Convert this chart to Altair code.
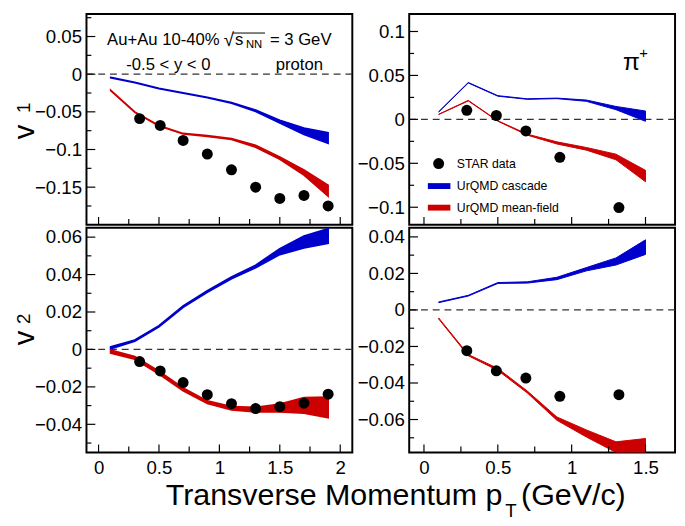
import altair as alt
import pandas as pd

FONT = "Liberation Sans"
BLUE = "#0000CC"
RED = "#CC0000"

W = 271
H_TOP = 215
H_BOT = 229

# ---------------- data ----------------
# proton, STAR data
pt_p = [0.34, 0.51, 0.70, 0.90, 1.10, 1.30, 1.50, 1.70, 1.90]
v1_p_star = [-0.059, -0.068, -0.088, -0.106, -0.127, -0.150, -0.165, -0.161, -0.175]
v2_p_star = [-0.0065, -0.0115, -0.0177, -0.0242, -0.029, -0.0316, -0.0306, -0.0287, -0.0239]
# pi+, STAR data
pt_pi = [0.29, 0.49, 0.69, 0.92, 1.32]
v1_pi_star = [0.0103, 0.0044, -0.0132, -0.0432, -0.1004]
v2_pi_star = [-0.0223, -0.0333, -0.0373, -0.0473, -0.0464]

# UrQMD model bins
pt_model_p = [0.1, 0.3, 0.5, 0.7, 0.9, 1.1, 1.3, 1.5, 1.7, 1.9]
pt_model_pi = [0.1, 0.3, 0.5, 0.7, 0.9, 1.1, 1.3, 1.5]

# v1 proton
v1_p_casc_hi = [-0.0042, -0.0106, -0.0186, -0.0246, -0.0306, -0.0376, -0.0475, -0.061, -0.0714, -0.0777]
v1_p_casc_lo = [-0.0050, -0.0114, -0.0194, -0.0254, -0.0314, -0.0386, -0.0496, -0.065, -0.080, -0.092]
v1_p_mf_hi = [-0.0210, -0.0500, -0.0681, -0.0786, -0.0816, -0.0853, -0.0945, -0.110, -0.127, -0.1475]
v1_p_mf_lo = [-0.0218, -0.0508, -0.0689, -0.0794, -0.0826, -0.0866, -0.0970, -0.113, -0.134, -0.162]
# v1 pi+
v1_pi_casc_hi = [0.0088, 0.0420, 0.0270, 0.0234, 0.0242, 0.0220, 0.0147, 0.0095]
v1_pi_casc_lo = [0.0084, 0.0414, 0.0264, 0.0228, 0.0236, 0.0205, 0.0110, -0.0022]
v1_pi_mf_hi = [0.0059, 0.0216, -0.0015, -0.0168, -0.0256, -0.0320, -0.0396, -0.058]
v1_pi_mf_lo = [0.0055, 0.0210, -0.0021, -0.0180, -0.0280, -0.0350, -0.0460, -0.071]
# v2 proton
v2_p_casc_hi = [0.0014, 0.0050, 0.0127, 0.0232, 0.0313, 0.0387, 0.0450, 0.0538, 0.0605, 0.0645]
v2_p_casc_lo = [0.0004, 0.0044, 0.0121, 0.0225, 0.0306, 0.0378, 0.0437, 0.0507, 0.0542, 0.0567]
v2_p_mf_hi = [-0.0004, -0.0038, -0.0117, -0.0206, -0.0275, -0.0306, -0.0310, -0.0292, -0.0258, -0.0255]
v2_p_mf_lo = [-0.0020, -0.0052, -0.0131, -0.0220, -0.0289, -0.0323, -0.0334, -0.0334, -0.0340, -0.0365]
# v2 pi+
v2_pi_casc_hi = [0.0044, 0.0080, 0.0150, 0.0154, 0.0179, 0.0232, 0.0285, 0.0384]
v2_pi_casc_lo = [0.0040, 0.0076, 0.0145, 0.0147, 0.0166, 0.0214, 0.0246, 0.0304]
v2_pi_mf_hi = [-0.0044, -0.0244, -0.0320, -0.0444, -0.0586, -0.0657, -0.0722, -0.0704]
v2_pi_mf_lo = [-0.0050, -0.0251, -0.0331, -0.0455, -0.0604, -0.0696, -0.0780, -0.0800]

# axes / ticks
x_dom_p = [-0.1, 2.1]
x_dom_pi = [-0.1, 1.7]
x_major_p = [0, 0.5, 1, 1.5, 2]
x_minor_p = [0.25, 0.75, 1.25, 1.75]
x_major_pi = [0, 0.5, 1, 1.5]
x_minor_pi = [0.25, 0.75, 1.25]

y_dom_v1p = [-0.2, 0.08]
y_major_v1p = [0.05, 0, -0.05, -0.1, -0.15]
y_minor_v1p = [0.075, 0.025, -0.025, -0.075, -0.125, -0.175]
y_dom_v1pi = [-0.12, 0.12]
y_major_v1pi = [0.1, 0.05, 0, -0.05, -0.1]
y_minor_v1pi = [0.075, 0.025, -0.025, -0.075]
y_dom_v2p = [-0.055, 0.065]
y_major_v2p = [0.06, 0.04, 0.02, 0, -0.02, -0.04]
y_minor_v2p = [0.05, 0.03, 0.01, -0.01, -0.03, -0.05]
y_dom_v2pi = [-0.078, 0.045]
y_major_v2pi = [0.04, 0.02, 0, -0.02, -0.04, -0.06]
y_minor_v2pi = [0.03, 0.01, -0.01, -0.03, -0.05, -0.07]

legend_labels = ["STAR data", "UrQMD cascade", "UrQMD mean-field"]

ONE = pd.DataFrame({"k": [0]})


def txt(s, x, y, size, align="left", baseline="alphabetic", angle=None):
    kw = dict(text=s, align=align, baseline=baseline, font=FONT, fontSize=size, color="black")
    if angle is not None:
        kw["angle"] = angle
    return alt.Chart(ONE).mark_text(**kw).encode(x=alt.value(x), y=alt.value(y))


def panel(star_x, star_y, mx, c_hi, c_lo, m_hi, m_lo, xdom, ydom,
          xmaj, xmin, ymaj, ymin, H, show_x, lw, extra):
    xs = alt.Scale(domain=xdom, nice=False, zero=False)
    ys = alt.Scale(domain=ydom, nice=False, zero=False)
    yaxis = alt.Axis(values=ymaj, format="~g", title=None, labelPadding=5,
                     ticks=False, domain=False, grid=False,
                     labelFont=FONT, labelFontSize=19, labelColor="black")
    if show_x:
        xaxis = alt.Axis(values=xmaj, format="~g", title=None, labelPadding=7,
                         ticks=False, domain=False, grid=False,
                         labelFont=FONT, labelFontSize=19, labelColor="black")
    else:
        xaxis = None

    def X(f):
        return alt.X(f, scale=xs, axis=xaxis)

    def Y(f):
        return alt.Y(f, scale=ys, axis=yaxis)

    zero = alt.Chart(pd.DataFrame({"z": [0]})).mark_rule(
        color="#333", strokeDash=[7, 5], strokeWidth=1.3
    ).encode(y=Y("z:Q"))

    casc = alt.Chart(pd.DataFrame({"pt": mx, "hi": c_hi, "lo": c_lo})).mark_area(
        color=BLUE, stroke=BLUE, strokeWidth=lw, clip=True
    ).encode(x=X("pt:Q"), y=Y("hi:Q"), y2="lo:Q")
    mf = alt.Chart(pd.DataFrame({"pt": mx, "hi": m_hi, "lo": m_lo})).mark_area(
        color=RED, stroke=RED, strokeWidth=lw, clip=True
    ).encode(x=X("pt:Q"), y=Y("hi:Q"), y2="lo:Q")
    pts = alt.Chart(pd.DataFrame({"pt": star_x, "v": star_y})).mark_circle(
        color="black", size=125, opacity=1
    ).encode(x=X("pt:Q"), y=Y("v:Q"))

    ytM = alt.Chart(pd.DataFrame({"t": ymaj})).mark_rule(color="black", strokeWidth=1.2).encode(
        y=Y("t:Q"), x=alt.value(0), x2=alt.value(9))
    ytm = alt.Chart(pd.DataFrame({"t": ymin})).mark_rule(color="black", strokeWidth=1.2).encode(
        y=Y("t:Q"), x=alt.value(0), x2=alt.value(5))
    xtM = alt.Chart(pd.DataFrame({"t": xmaj})).mark_rule(color="black", strokeWidth=1.2).encode(
        x=X("t:Q"), y=alt.value(H), y2=alt.value(H - 8))
    xtm = alt.Chart(pd.DataFrame({"t": xmin})).mark_rule(color="black", strokeWidth=1.2).encode(
        x=X("t:Q"), y=alt.value(H), y2=alt.value(H - 6))

    return alt.layer(zero, casc, mf, pts, ytM, ytm, xtM, xtm, *extra).properties(width=W, height=H)


# ---- annotations ----
tl_extra = [
    txt("Au+Au 10-40%", 21, 31.5, 17),
    txt("\u221a", 140, 33, 19),
    alt.Chart(ONE).mark_rule(color="black", strokeWidth=1).encode(
        x=alt.value(149.5), x2=alt.value(182), y=alt.value(19.5)),
    txt("s", 151.5, 31.5, 17),
    txt("NN", 162.5, 35, 11.5),
    txt("= 3 GeV", 187, 31.5, 17),
    txt("-0.5 < y < 0", 40.5, 57, 17),
    txt("proton", 193, 57, 17),
    txt("v", -63, H_TOP * 0.56, 30, align="center", baseline="middle", angle=270),
    txt("1", -63.5, H_TOP * 0.445, 19, align="center", baseline="middle", angle=270),
]

tr_extra = [
    txt("\u03c0", 218, 57, 25),
    txt("+", 234.5, 45, 15),
    alt.Chart(ONE).mark_circle(color="black", size=125, opacity=1).encode(
        x=alt.value(30), y=alt.value(152.5)),
    alt.Chart(ONE).mark_rect(color=BLUE).encode(
        x=alt.value(19), x2=alt.value(42), y=alt.value(172.5), y2=alt.value(178.5)),
    alt.Chart(ONE).mark_rect(color=RED).encode(
        x=alt.value(19), x2=alt.value(42), y=alt.value(194.5), y2=alt.value(200.5)),
    txt(legend_labels[0], 48.5, 153.5, 12.5, baseline="middle"),
    txt(legend_labels[1], 48.5, 175.5, 12.5, baseline="middle"),
    txt(legend_labels[2], 48.5, 197.5, 12.5, baseline="middle"),
]

bl_extra = [
    txt("v", -63, H_BOT * 0.49, 30, align="center", baseline="middle", angle=270),
    txt("2", -63.5, H_BOT * 0.405, 19, align="center", baseline="middle", angle=270),
]

tl = panel(pt_p, v1_p_star, pt_model_p, v1_p_casc_hi, v1_p_casc_lo, v1_p_mf_hi, v1_p_mf_lo,
           x_dom_p, y_dom_v1p, x_major_p, x_minor_p, y_major_v1p, y_minor_v1p,
           H_TOP, False, 1.6, tl_extra)
tr = panel(pt_pi, v1_pi_star, pt_model_pi, v1_pi_casc_hi, v1_pi_casc_lo, v1_pi_mf_hi, v1_pi_mf_lo,
           x_dom_pi, y_dom_v1pi, x_major_pi, x_minor_pi, y_major_v1pi, y_minor_v1pi,
           H_TOP, False, 1.0, tr_extra)
bl = panel(pt_p, v2_p_star, pt_model_p, v2_p_casc_hi, v2_p_casc_lo, v2_p_mf_hi, v2_p_mf_lo,
           x_dom_p, y_dom_v2p, x_major_p, x_minor_p, y_major_v2p, y_minor_v2p,
           H_BOT, True, 1.8, bl_extra)
br = panel(pt_pi, v2_pi_star, pt_model_pi, v2_pi_casc_hi, v2_pi_casc_lo, v2_pi_mf_hi, v2_pi_mf_lo,
           x_dom_pi, y_dom_v2pi, x_major_pi, x_minor_pi, y_major_v2pi, y_minor_v2pi,
           H_BOT, True, 1.0, [])

grid = alt.concat(tl, tr, bl, br, columns=2, spacing={"row": 0, "column": 1})

# x-axis title as its own strip below the grid
title_strip = alt.layer(
    txt("Transverse Momentum p", 424, 27, 31, align="right"),
    txt("T", 427, 39, 19),
    txt("(GeV/c)", 443, 27, 31),
).properties(width=W, height=40, view=alt.ViewBackground(strokeWidth=0))

chart = alt.vconcat(grid, title_strip, spacing=0).configure_view(
    stroke="black", strokeWidth=2
).properties(background="white", padding=0)

chart.save("out.html", embed_options={"renderer": "svg", "actions": False})
